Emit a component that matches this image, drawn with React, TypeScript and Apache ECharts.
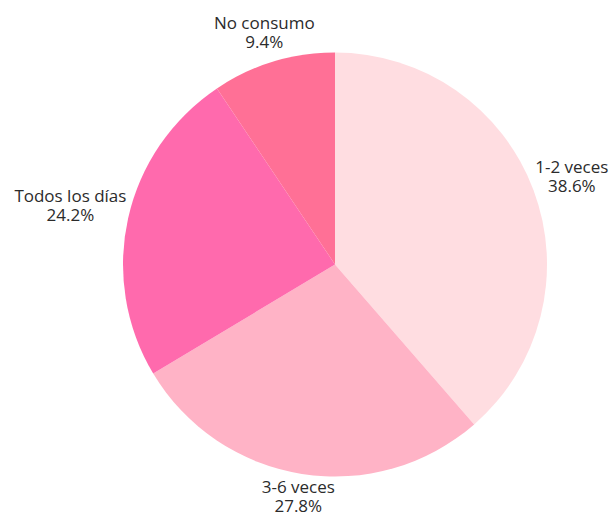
import React, { useEffect, useRef } from 'react';
import * as echarts from 'echarts';

const categories = ['1-2 veces', '3-6 veces', 'Todos los días', 'No consumo'];
const values = [38.6, 27.8, 24.2, 9.4];
const colors = ['#FFDDE1', '#FFB3C6', '#FF6AAD', '#FF7096'];

const CENTER: [number, number] = [335, 264.5];
const RADIUS = 212;
const GAP = 1;

export default function App() {
  const ref = useRef<HTMLDivElement>(null);
  useEffect(() => {
    document.body.style.margin = '0';
    if (!ref.current) return;
    const chart = echarts.init(ref.current, undefined, { renderer: 'svg' });
    const total = values.reduce((a, b) => a + b, 0);
    const mids: number[] = [];
    let cum = 0;
    values.forEach((v) => {
      mids.push(((cum + v / 2) / total) * Math.PI * 2);
      cum += v;
    });
    chart.setOption({
      animation: false,
      backgroundColor: '#ffffff',
      series: [
        {
          type: 'pie',
          center: CENTER,
          radius: RADIUS,
          startAngle: 90,
          clockwise: true,
          avoidLabelOverlap: false,
          data: categories.map((name, i) => ({
            name,
            value: values[i],
            itemStyle: { color: colors[i] },
          })),
          itemStyle: { borderWidth: 0 },
          label: {
            show: true,
            position: 'outside',
            formatter: (p: any) => `${p.name}\n${p.value.toFixed(1)}%`,
            fontFamily: 'Open Sans',
            fontSize: 17,
            lineHeight: 19,
            color: '#2b2b2b',
            align: 'center',
          },
          labelLine: { show: false },
          labelLayout: (params: any) => {
            const a = mids[params.dataIndex];
            const dx = Math.sin(a);
            const dy = -Math.cos(a);
            const w = params.labelRect.width;
            const h = params.labelRect.height;
            const ext = Math.abs(dx) * w / 2 + Math.abs(dy) * (h / 2 - 3);
            const d = RADIUS + GAP + ext;
            return {
              x: CENTER[0] + dx * d,
              y: CENTER[1] + dy * d,
              align: 'center',
              verticalAlign: 'middle',
            };
          },
        },
      ],
    });
    return () => chart.dispose();
  }, []);
  return <div ref={ref} style={{ width: 614, height: 512 }} />;
}
